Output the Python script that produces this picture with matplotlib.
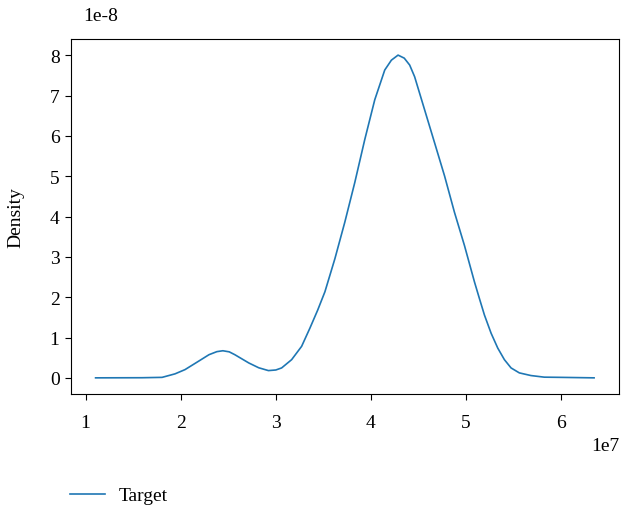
import matplotlib
matplotlib.use("Agg")
import matplotlib.pyplot as plt
from matplotlib.transforms import ScaledTranslation

plt.rcParams['font.family'] = ['Liberation Serif', 'DejaVu Serif']
plt.rcParams['axes.unicode_minus'] = False

# x in units of 1e7, density in units of 1e-8
x_vals = [1.105, 1.594, 1.804, 1.940, 2.045, 2.192, 2.297, 2.380, 2.443, 2.510,
          2.569, 2.716, 2.820, 2.922, 3.000, 3.061, 3.166, 3.271, 3.358, 3.440,
          3.516, 3.621, 3.725, 3.830, 3.935, 4.040, 4.145, 4.215, 4.285, 4.350,
          4.407, 4.459, 4.564, 4.669, 4.774, 4.878, 4.983, 5.088, 5.140, 5.193,
          5.263, 5.333, 5.403, 5.473, 5.560, 5.682, 5.822, 5.997, 6.346]
density = [0.0, 0.003, 0.012, 0.099, 0.204, 0.419, 0.574, 0.650, 0.672, 0.645,
           0.574, 0.369, 0.250, 0.180, 0.195, 0.246, 0.451, 0.781, 1.232, 1.680,
           2.135, 2.956, 3.860, 4.845, 5.911, 6.897, 7.635, 7.880, 8.005, 7.930,
           7.759, 7.470, 6.650, 5.830, 5.007, 4.106, 3.283, 2.382, 1.970, 1.559,
           1.108, 0.739, 0.451, 0.246, 0.123, 0.057, 0.017, 0.012, 0.0]
series_label = "Target"

xs = [v * 1e7 for v in x_vals]
ys = [v * 1e-8 for v in density]

fig = plt.figure(figsize=(6.21, 5.06), dpi=100)
ax = fig.add_axes([0.1138, 0.2194, 0.8830, 0.7016])
ax.plot(xs, ys, color='#1f77b4', linewidth=1.2, label=series_label)
ax.set_ylabel("Density", fontsize=14, labelpad=18)
ax.tick_params(labelsize=14, length=4.5)
ax.tick_params(axis='x', pad=10)
ax.set_yticks([v * 1e-8 for v in range(0, 9)])
ax.set_xticks([v * 1e7 for v in range(1, 7)])

yoff = ax.yaxis.get_offset_text()
yoff.set_fontsize(14)
yoff.set_transform(yoff.get_transform() + ScaledTranslation(0.13, 0.15, fig.dpi_scale_trans))
xoff = ax.xaxis.get_offset_text()
xoff.set_fontsize(14)
xoff.set_transform(xoff.get_transform() + ScaledTranslation(0.0, -0.02, fig.dpi_scale_trans))

fig.legend(loc='lower left', bbox_to_anchor=(0.094, -0.022), frameon=False,
           fontsize=14, handlelength=1.8, handletextpad=0.7, borderaxespad=0.2)
fig.savefig("out.png", dpi=100)
